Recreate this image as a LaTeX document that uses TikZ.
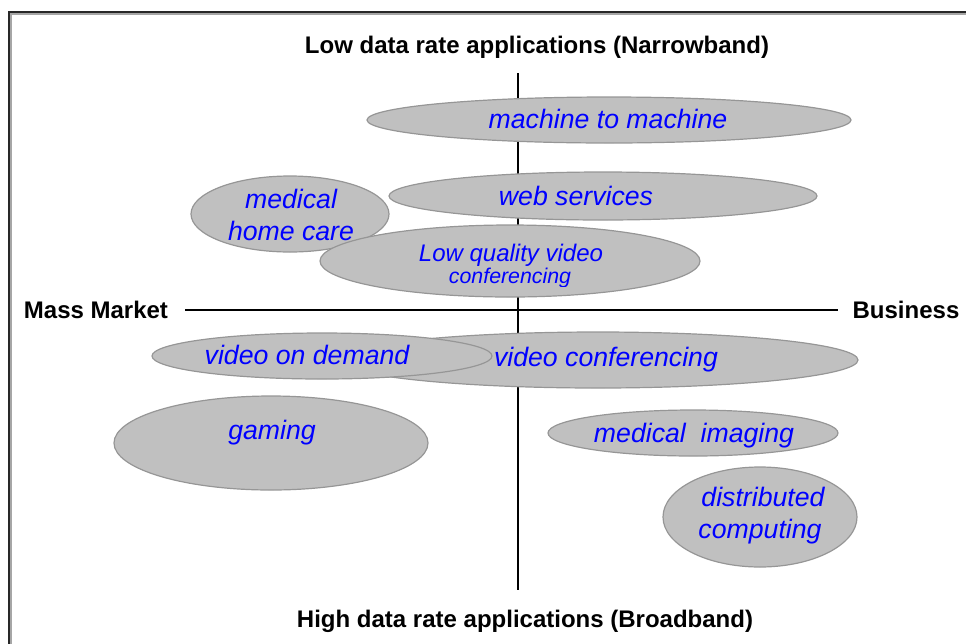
\documentclass[tikz,border=0pt]{standalone}
\usepackage{fontspec}
\setmainfont{Liberation Sans}
\usetikzlibrary{shapes.geometric}
\definecolor{blobfill}{RGB}{192,192,192}
\definecolor{blobline}{RGB}{150,150,150}
\definecolor{framecol}{RGB}{40,40,40}
\begin{document}
\begin{tikzpicture}[x=0.75pt,y=-0.75pt,
  blob/.style 2 args={ellipse, draw=blobline, fill=blobfill, line width=0.9pt,
    inner sep=0pt, outer sep=0pt, minimum width=#1*1.5pt, minimum height=#2*1.5pt},
  app/.style={font=\fontsize{20pt}{23pt}\selectfont\itshape, text=blue, inner sep=0pt, anchor=base},
  axislabel/.style={font=\fontsize{18pt}{21pt}\selectfont\bfseries, inner sep=0pt, anchor=base},
  axisline/.style={line width=1pt, black},
]
\useasboundingbox (0,0) rectangle (966,643);

% open frame: top and left edges only
\draw[line width=1.6pt, black!35] (967,13.5) -- (10.5,13.5) -- (10.5,644);
\draw[line width=1.3pt, framecol] (967,12) -- (9,12) -- (9,644);

% axes
\coordinate (axN) at (518,73);
\coordinate (axS) at (518,590);
\coordinate (axW) at (185,310);
\coordinate (axE) at (838,310);
\draw[axisline] (axN) -- (axS);
\draw[axisline] (axW) -- (axE);

% axis labels
\node[axislabel] (narrow) at (537,53) {Low data rate applications (Narrowband)};
\node[axislabel] (broad) at (525,627) {High data rate applications (Broadband)};
\node[axislabel] (mass) at (96,318) {Mass Market};
\node[axislabel] (biz) at (906,318) {Business};

% application areas
\node[blob={242}{23}] (m2m)  at (609,120) {};
\node[blob={214}{24}] (web)  at (603,196) {};
\node[blob={99}{38}]  (care) at (290,214) {};
\node[blob={190}{36}] (lqv)  at (510,261) {};
\node[blob={260}{28}] (vc)   at (598,360) {};
\node[blob={170}{23}] (vod)  at (322,356) {};
\node[blob={157}{47}] (game) at (271,443) {};
\node[blob={145}{23}] (img)  at (693,433) {};
\node[blob={97}{50}]  (dist) at (760,517) {};

% application names
\node[app] (m2mT)   at (608,128) {machine to machine};
\node[app] (webT)   at (576,205) {web services};
\node[app] (careT1) at (291,208) {medical};
\node[app] (careT2) at (291,240) {home care};
\node[app, font=\fontsize{18pt}{21pt}\selectfont\itshape] (lqvT1) at (511,261) {Low quality video};
\begin{scope}
  \clip (300,264) rectangle (720,286);
  \node[app, font=\fontsize{16pt}{19pt}\selectfont\itshape] (lqvT2) at (510,283) {conferencing};
\end{scope}
\node[app] (vodT)   at (307,364) {video on demand};
\node[app] (vcT)    at (606,366) {video conferencing};
\node[app] (gameT)  at (272,439) {gaming};
\node[app] (imgT)   at (694,442) {medical\ \ imaging};
\node[app] (distT1) at (763,506) {distributed};
\node[app] (distT2) at (760,538) {computing};
\end{tikzpicture}
\end{document}
